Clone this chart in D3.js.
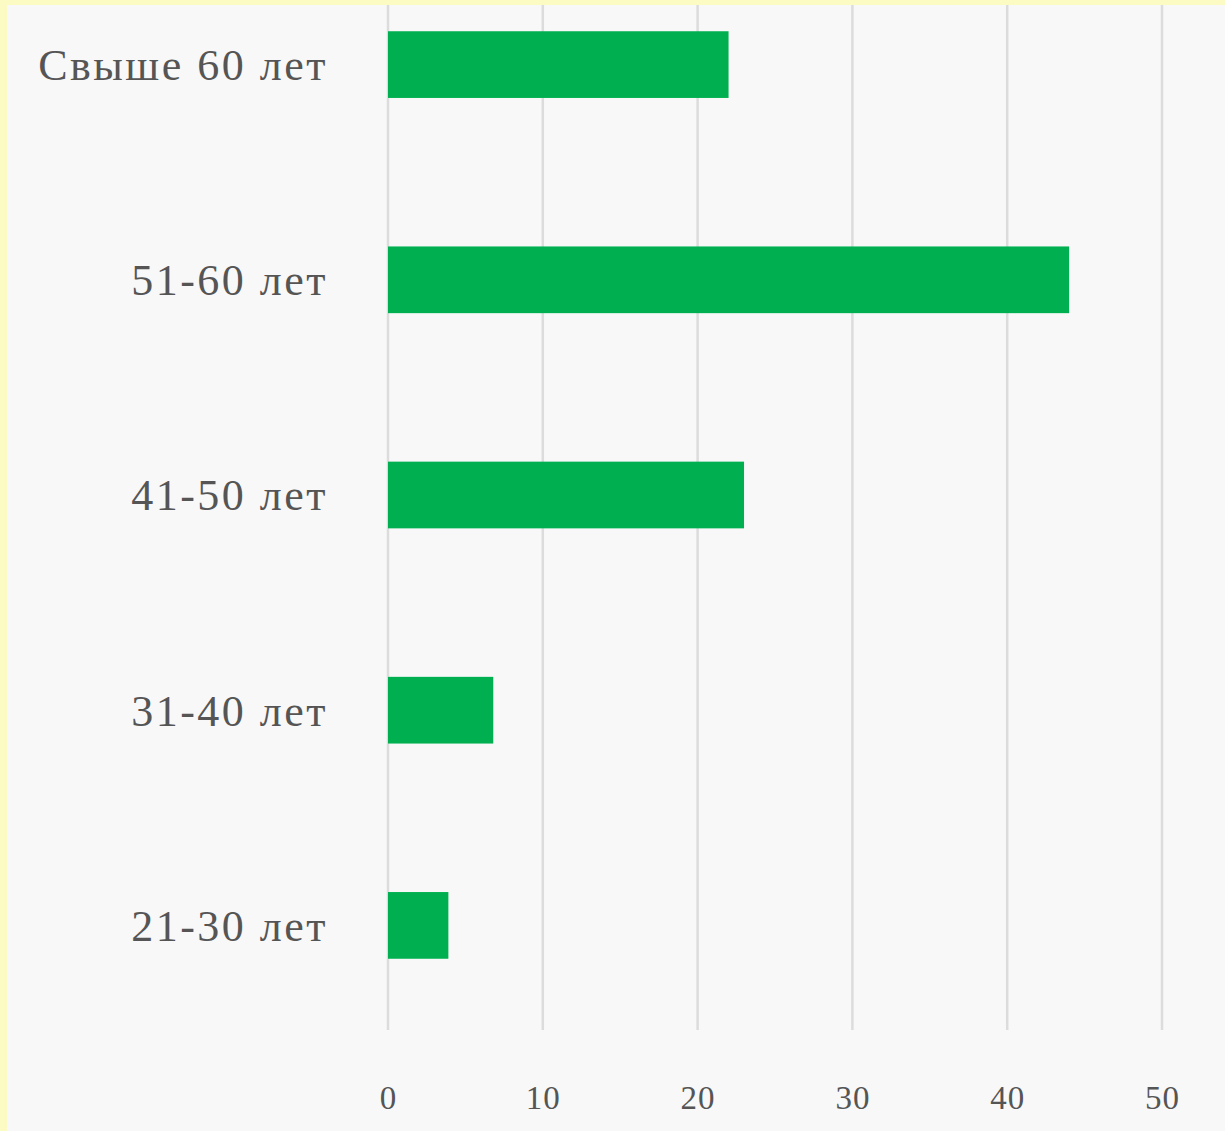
<!DOCTYPE html>
<html>
<head>
<meta charset="utf-8">
<script src="https://cdn.jsdelivr.net/npm/d3@7"></script>
<style>
  body { margin: 0; background: #fdfbc4; }
  svg { display: block; }
</style>
</head>
<body>
<svg id="chart"></svg>
<script>
// данные
const categories = ["Свыше 60 лет", "51-60 лет", "41-50 лет", "31-40 лет", "21-30 лет"];
const values = [22, 44, 23, 6.8, 3.9];
const ticks = [0, 10, 20, 30, 40, 50];

const svgWidth = 1225, svgHeight = 1131;

const svg = d3.select("#chart")
    .attr("width", svgWidth)
    .attr("height", svgHeight);

// светлый фон внутри жёлтой рамки
svg.append("rect")
    .attr("x", 7).attr("y", 5)
    .attr("width", svgWidth - 7).attr("height", svgHeight - 5)
    .attr("fill", "#f8f8f8");

let x = d3.scaleLinear()
    .domain([0, 50])
    .range([388, 1162]);

let y = d3.scaleBand()
    .domain(categories)
    .range([-43, 1033])
    .paddingInner(0.69)
    .paddingOuter(0.345);

// сетка
svg.append("g")
    .selectAll("line")
    .data(ticks)
    .join("line")
    .attr("x1", d => x(d))
    .attr("x2", d => x(d))
    .attr("y1", 5)
    .attr("y2", 1030)
    .attr("stroke", "#dcdcdc")
    .attr("stroke-width", 2.5);

// бары
svg.append("g")
    .selectAll("rect")
    .data(categories)
    .join("rect")
    .attr("x", x(0))
    .attr("y", d => y(d))
    .attr("width", (d, i) => x(values[i]) - x(0))
    .attr("height", y.bandwidth())
    .attr("fill", "#00b050");

// подписи категорий
svg.append("g")
    .selectAll("text")
    .data(categories)
    .join("text")
    .attr("x", 328)
    .attr("y", d => y(d) + y.bandwidth() / 2)
    .attr("dy", "0.35em")
    .attr("text-anchor", "end")
    .attr("font-family", "Liberation Serif, DejaVu Serif, serif")
    .attr("font-size", 44)
    .attr("letter-spacing", 2.5)
    .attr("fill", "#555")
    .text(d => d);

// ось X
let xAxis = svg.append("g")
    .attr("transform", "translate(0,1030)")
    .call(d3.axisBottom(x).tickValues(ticks).tickSize(0).tickPadding(56));
xAxis.select(".domain").remove();
xAxis.selectAll("text")
    .attr("font-family", "Liberation Serif, DejaVu Serif, serif")
    .attr("font-size", 33)
    .attr("letter-spacing", 1)
    .attr("fill", "#555");
</script>
</body>
</html>
